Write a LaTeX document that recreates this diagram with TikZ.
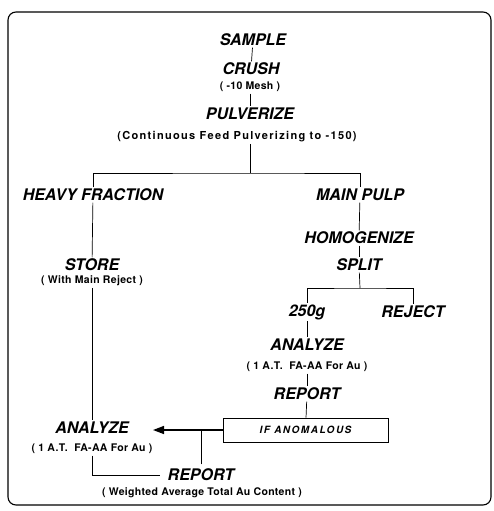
\documentclass[tikz,border=0pt]{standalone}
\usepackage{fontspec}
\setmainfont{TeX Gyre Heros}
\usetikzlibrary{arrows.meta}

\begin{document}
\begin{tikzpicture}[x=1pt,y=-1pt,
  head/.style={font=\bfseries\itshape\fontsize{16}{16}\selectfont, inner sep=1.5pt},
  note/.style={font=\bfseries\fontsize{10.5}{11}\selectfont\addfontfeature{LetterSpace=3}, inner sep=1.5pt},
  link/.style={line width=0.7pt}]
  \useasboundingbox (0,0) rectangle (494,511);
  \draw[line width=1.1pt, rounded corners=8pt] (8,12) rectangle (491,505);

  \node[head] (sample) at (253,40) {SAMPLE};
  \node[head] (crush) at (251,69) {CRUSH};
  \node[note] (mesh) at (250,87) {( -10 Mesh )};
  \node[head] (pulv) at (250,114) {PULVERIZE};
  \node[note, font=\bfseries\fontsize{11}{11}\selectfont\addfontfeature{LetterSpace=12}] (feed) at (237,137) {(Continuous Feed Pulverizing to -150)};
  \coordinate (fork) at (250,173);
  \node[head] (heavy) at (93,195) {HEAVY FRACTION};
  \node[head] (pulp) at (360,195) {MAIN PULP};
  \node[head] (homog) at (359,238) {HOMOGENIZE};
  \node[head] (split) at (359,265) {SPLIT};
  \coordinate (fork2) at (360,288);
  \node[head] (store) at (92,265) {STORE};
  \node[note] (withrej) at (92,281) {( With Main Reject )};
  \node[head] (g250) at (307,312) {250g};
  \node[head] (reject) at (413,312) {REJECT};
  \node[head] (anar) at (307,345) {ANALYZE};
  \node[note] (atr) at (307,367) {( 1 A.T.\ \ FA-AA For Au )};
  \node[head] (repr) at (307,394) {REPORT};
  \node[draw, line width=0.7pt, minimum width=165pt, minimum height=24pt,
    font=\bfseries\itshape\fontsize{10}{10}\selectfont\addfontfeature{LetterSpace=15}] (anom) at (305.5,430) {IF ANOMALOUS};
  \node[head] (anal) at (92,428) {ANALYZE};
  \coordinate (tip) at (153,430);
  \node[note] (atl) at (92,449) {( 1 A.T.\ \ FA-AA For Au )};
  \node[head] (repl) at (201,475) {REPORT};
  \node[note] (weigh) at (202,493) {( Weighted Average Total Au Content )};

  \draw[link] (sample) -- (crush);
  \draw[link] (mesh) -- (pulv);
  \draw[link] (feed.south -| fork) -- (fork);
  \draw[link] (heavy.north) |- (fork) -| (pulp.north);
  \draw[link] (pulp) -- (homog);
  \draw[link] (homog) -- (split);
  \draw[link] (split) -- (fork2);
  \draw[link] (g250.north) |- (fork2) -| (reject.north);
  \draw[link] (heavy) -- (store);
  \draw[link] (withrej) -- (anal);
  \draw[link] (g250) -- (anar);
  \draw[link] (atr) -- (repr);
  \draw[link] (repr) -- (anom);
  \draw[line width=1.4pt, -{Triangle[length=11pt,width=8pt]}] (anom.west) -- (tip);
  \draw[link] (repl.north) ++(0,-3) -- (repl |- anom.west);
  \draw[link] (atl.south) |- ([xshift=-6pt]repl.west);
\end{tikzpicture}
\end{document}
